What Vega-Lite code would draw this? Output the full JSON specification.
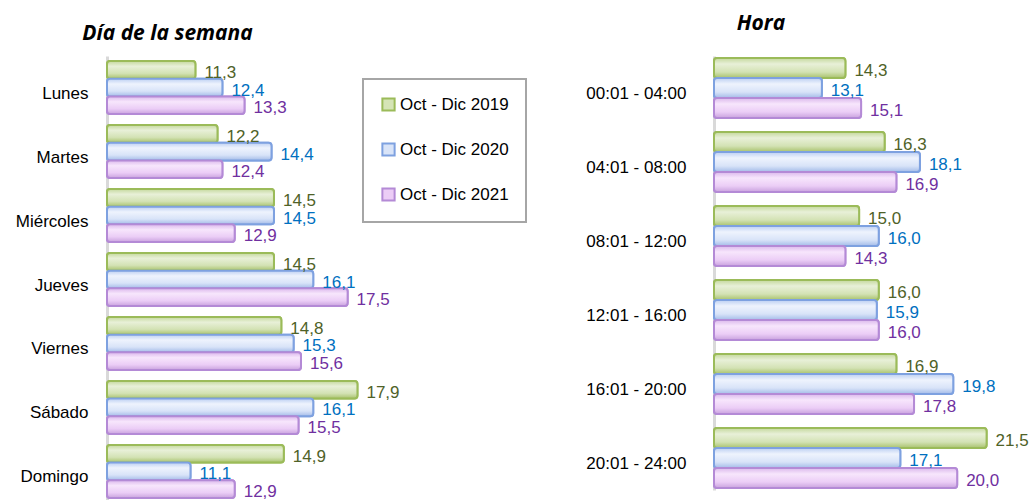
{
  "$schema": "https://vega.github.io/schema/vega-lite/v6.json",
  "padding": {"left": 15, "top": 13, "right": 0, "bottom": 0},
  "background": "white",
  "bounds": "flush",
  "spacing": 305,
  "config": {
    "view": {"stroke": null},
    "font": "Liberation Sans",
    "locale": {"number": {"decimal": ",", "thousands": ".", "grouping": [3], "currency": ["", " €"]}},
    "axisY": {"domainColor": "#d9d9d9", "domainWidth": 3, "ticks": false, "grid": false, "labelFont": "Liberation Sans", "labelFontSize": 17, "labelColor": "#000000", "labelOffset": 6, "title": null},
    "legend": {"strokeWidth": 2}
  },
  "datasets": {
    "dias": [
      {"categoria": "Lunes", "serie": "Oct - Dic 2019", "valor": 11.3},
      {"categoria": "Lunes", "serie": "Oct - Dic 2020", "valor": 12.4},
      {"categoria": "Lunes", "serie": "Oct - Dic 2021", "valor": 13.3},
      {"categoria": "Martes", "serie": "Oct - Dic 2019", "valor": 12.2},
      {"categoria": "Martes", "serie": "Oct - Dic 2020", "valor": 14.4},
      {"categoria": "Martes", "serie": "Oct - Dic 2021", "valor": 12.4},
      {"categoria": "Miércoles", "serie": "Oct - Dic 2019", "valor": 14.5},
      {"categoria": "Miércoles", "serie": "Oct - Dic 2020", "valor": 14.5},
      {"categoria": "Miércoles", "serie": "Oct - Dic 2021", "valor": 12.9},
      {"categoria": "Jueves", "serie": "Oct - Dic 2019", "valor": 14.5},
      {"categoria": "Jueves", "serie": "Oct - Dic 2020", "valor": 16.1},
      {"categoria": "Jueves", "serie": "Oct - Dic 2021", "valor": 17.5},
      {"categoria": "Viernes", "serie": "Oct - Dic 2019", "valor": 14.8},
      {"categoria": "Viernes", "serie": "Oct - Dic 2020", "valor": 15.3},
      {"categoria": "Viernes", "serie": "Oct - Dic 2021", "valor": 15.6},
      {"categoria": "Sábado", "serie": "Oct - Dic 2019", "valor": 17.9},
      {"categoria": "Sábado", "serie": "Oct - Dic 2020", "valor": 16.1},
      {"categoria": "Sábado", "serie": "Oct - Dic 2021", "valor": 15.5},
      {"categoria": "Domingo", "serie": "Oct - Dic 2019", "valor": 14.9},
      {"categoria": "Domingo", "serie": "Oct - Dic 2020", "valor": 11.1},
      {"categoria": "Domingo", "serie": "Oct - Dic 2021", "valor": 12.9}
    ],
    "horas": [
      {"categoria": "00:01 - 04:00", "serie": "Oct - Dic 2019", "valor": 14.3},
      {"categoria": "00:01 - 04:00", "serie": "Oct - Dic 2020", "valor": 13.1},
      {"categoria": "00:01 - 04:00", "serie": "Oct - Dic 2021", "valor": 15.1},
      {"categoria": "04:01 - 08:00", "serie": "Oct - Dic 2019", "valor": 16.3},
      {"categoria": "04:01 - 08:00", "serie": "Oct - Dic 2020", "valor": 18.1},
      {"categoria": "04:01 - 08:00", "serie": "Oct - Dic 2021", "valor": 16.9},
      {"categoria": "08:01 - 12:00", "serie": "Oct - Dic 2019", "valor": 15.0},
      {"categoria": "08:01 - 12:00", "serie": "Oct - Dic 2020", "valor": 16.0},
      {"categoria": "08:01 - 12:00", "serie": "Oct - Dic 2021", "valor": 14.3},
      {"categoria": "12:01 - 16:00", "serie": "Oct - Dic 2019", "valor": 16.0},
      {"categoria": "12:01 - 16:00", "serie": "Oct - Dic 2020", "valor": 15.9},
      {"categoria": "12:01 - 16:00", "serie": "Oct - Dic 2021", "valor": 16.0},
      {"categoria": "16:01 - 20:00", "serie": "Oct - Dic 2019", "valor": 16.9},
      {"categoria": "16:01 - 20:00", "serie": "Oct - Dic 2020", "valor": 19.8},
      {"categoria": "16:01 - 20:00", "serie": "Oct - Dic 2021", "valor": 17.8},
      {"categoria": "20:01 - 24:00", "serie": "Oct - Dic 2019", "valor": 21.5},
      {"categoria": "20:01 - 24:00", "serie": "Oct - Dic 2020", "valor": 17.1},
      {"categoria": "20:01 - 24:00", "serie": "Oct - Dic 2021", "valor": 20.0}
    ]
  },
  "resolve": {
    "scale": {"x": "independent", "y": "independent", "yOffset": "independent"},
    "legend": {"fill": "independent", "stroke": "independent"}
  },
  "hconcat": [
    {
      "width": 302,
      "height": 447,
      "title": {"text": "Día de la semana", "font": "Open Sans", "fontSize": 21, "fontWeight": "bold", "fontStyle": "italic", "anchor": "start", "dx": 67, "offset": 12, "color": "#000000"},
      "data": {"name": "dias"},
      "encoding": {
        "y": {"field": "categoria", "type": "nominal", "sort": null, "scale": {"paddingInner": 0.17, "paddingOuter": 0.078}, "axis": {"labelPadding": 19}},
        "yOffset": {"field": "serie", "type": "nominal", "scale": {"paddingInner": 0, "paddingOuter": 0}},
        "x": {"field": "valor", "type": "quantitative", "scale": {"domain": [7.7, 20], "zero": false, "nice": false}, "axis": null}
      },
      "layer": [
        {
          "mark": {"type": "bar", "strokeWidth": 2, "cornerRadius": 3},
          "encoding": {
            "x2": {"datum": 7.7},
            "fill": {"field": "serie", "type": "nominal", "scale": {"range": ["#d5e4b6", "#d9e4f8", "#eccdf6"]},
              "legend": {"title": null, "orient": "none", "legendX": 256, "legendY": 23, "padding": 17, "strokeColor": "#a6a6a6", "symbolType": "square", "symbolSize": 150, "symbolStrokeWidth": 2, "symbolOpacity": 1, "labelFont": "Liberation Sans", "labelFontSize": 17, "labelColor": "#000000", "labelOffset": 3, "rowPadding": 24}},
            "stroke": {"field": "serie", "type": "nominal", "scale": {"range": ["#9bbb59", "#7ea1e0", "#b48ad6"]},
              "legend": {"title": null, "orient": "none", "legendX": 256, "legendY": 23, "padding": 17, "strokeColor": "#a6a6a6", "symbolType": "square", "symbolSize": 150, "symbolStrokeWidth": 2, "symbolOpacity": 1, "labelFont": "Liberation Sans", "labelFontSize": 17, "labelColor": "#000000", "labelOffset": 3, "rowPadding": 24}}
          }
        },
        {
          "transform": [{"filter": "datum.serie === 'Oct - Dic 2019'"}],
          "mark": {"type": "bar", "strokeWidth": 2, "cornerRadius": 3, "stroke": "#9bbb59",
            "fill": {"gradient": "linear", "x1": 0, "y1": 0, "x2": 0, "y2": 1, "stops": [{"offset": 0, "color": "#c4d89c"}, {"offset": 0.3, "color": "#e8f0d8"}, {"offset": 0.7, "color": "#d3e2b4"}, {"offset": 1, "color": "#a8c26c"}]}},
          "encoding": {"x2": {"datum": 7.7}}
        },
        {
          "transform": [{"filter": "datum.serie === 'Oct - Dic 2020'"}],
          "mark": {"type": "bar", "strokeWidth": 2, "cornerRadius": 3, "stroke": "#7ea1e0",
            "fill": {"gradient": "linear", "x1": 0, "y1": 0, "x2": 0, "y2": 1, "stops": [{"offset": 0, "color": "#bccff2"}, {"offset": 0.3, "color": "#eef3fd"}, {"offset": 0.7, "color": "#d8e3f8"}, {"offset": 1, "color": "#a3bbe8"}]}},
          "encoding": {"x2": {"datum": 7.7}}
        },
        {
          "transform": [{"filter": "datum.serie === 'Oct - Dic 2021'"}],
          "mark": {"type": "bar", "strokeWidth": 2, "cornerRadius": 3, "stroke": "#b48ad6",
            "fill": {"gradient": "linear", "x1": 0, "y1": 0, "x2": 0, "y2": 1, "stops": [{"offset": 0, "color": "#dbb8ec"}, {"offset": 0.3, "color": "#f7e6fc"}, {"offset": 0.7, "color": "#ebcdf6"}, {"offset": 1, "color": "#c9a2de"}]}},
          "encoding": {"x2": {"datum": 7.7}}
        },
        {
          "mark": {"type": "text", "align": "left", "baseline": "middle", "dx": 9, "dy": 3, "fontSize": 17, "font": "Liberation Sans"},
          "encoding": {
            "text": {"field": "valor", "type": "quantitative", "format": ".1f"},
            "color": {"condition": [{"test": "datum.serie === 'Oct - Dic 2019'", "value": "#4f6228"}, {"test": "datum.serie === 'Oct - Dic 2020'", "value": "#0070c0"}], "value": "#7030a0"}
          }
        }
      ]
    },
    {
      "width": 302,
      "height": 434,
      "title": {"text": "Hora", "font": "Open Sans", "fontSize": 21, "fontWeight": "bold", "fontStyle": "italic", "anchor": "start", "dx": 151, "offset": 22, "color": "#000000"},
      "data": {"name": "horas"},
      "encoding": {
        "y": {"field": "categoria", "type": "nominal", "sort": null, "scale": {"paddingInner": 0.19, "paddingOuter": 0.027}, "axis": {"labelPadding": 28}},
        "yOffset": {"field": "serie", "type": "nominal", "scale": {"paddingInner": 0, "paddingOuter": 0}},
        "x": {"field": "valor", "type": "quantitative", "scale": {"domain": [7.6, 23], "zero": false, "nice": false}, "axis": null}
      },
      "layer": [
        {
          "mark": {"type": "bar", "strokeWidth": 2, "cornerRadius": 3},
          "encoding": {
            "x2": {"datum": 7.6},
            "fill": {"field": "serie", "type": "nominal", "scale": {"range": ["#d5e4b6", "#d9e4f8", "#eccdf6"]}, "legend": null},
            "stroke": {"field": "serie", "type": "nominal", "scale": {"range": ["#9bbb59", "#7ea1e0", "#b48ad6"]}, "legend": null}
          }
        },
        {
          "transform": [{"filter": "datum.serie === 'Oct - Dic 2019'"}],
          "mark": {"type": "bar", "strokeWidth": 2, "cornerRadius": 3, "stroke": "#9bbb59",
            "fill": {"gradient": "linear", "x1": 0, "y1": 0, "x2": 0, "y2": 1, "stops": [{"offset": 0, "color": "#c4d89c"}, {"offset": 0.3, "color": "#e8f0d8"}, {"offset": 0.7, "color": "#d3e2b4"}, {"offset": 1, "color": "#a8c26c"}]}},
          "encoding": {"x2": {"datum": 7.6}}
        },
        {
          "transform": [{"filter": "datum.serie === 'Oct - Dic 2020'"}],
          "mark": {"type": "bar", "strokeWidth": 2, "cornerRadius": 3, "stroke": "#7ea1e0",
            "fill": {"gradient": "linear", "x1": 0, "y1": 0, "x2": 0, "y2": 1, "stops": [{"offset": 0, "color": "#bccff2"}, {"offset": 0.3, "color": "#eef3fd"}, {"offset": 0.7, "color": "#d8e3f8"}, {"offset": 1, "color": "#a3bbe8"}]}},
          "encoding": {"x2": {"datum": 7.6}}
        },
        {
          "transform": [{"filter": "datum.serie === 'Oct - Dic 2021'"}],
          "mark": {"type": "bar", "strokeWidth": 2, "cornerRadius": 3, "stroke": "#b48ad6",
            "fill": {"gradient": "linear", "x1": 0, "y1": 0, "x2": 0, "y2": 1, "stops": [{"offset": 0, "color": "#dbb8ec"}, {"offset": 0.3, "color": "#f7e6fc"}, {"offset": 0.7, "color": "#ebcdf6"}, {"offset": 1, "color": "#c9a2de"}]}},
          "encoding": {"x2": {"datum": 7.6}}
        },
        {
          "mark": {"type": "text", "align": "left", "baseline": "middle", "dx": 9, "dy": 3, "fontSize": 17, "font": "Liberation Sans"},
          "encoding": {
            "text": {"field": "valor", "type": "quantitative", "format": ".1f"},
            "color": {"condition": [{"test": "datum.serie === 'Oct - Dic 2019'", "value": "#4f6228"}, {"test": "datum.serie === 'Oct - Dic 2020'", "value": "#0070c0"}], "value": "#7030a0"}
          }
        }
      ]
    }
  ]
}
